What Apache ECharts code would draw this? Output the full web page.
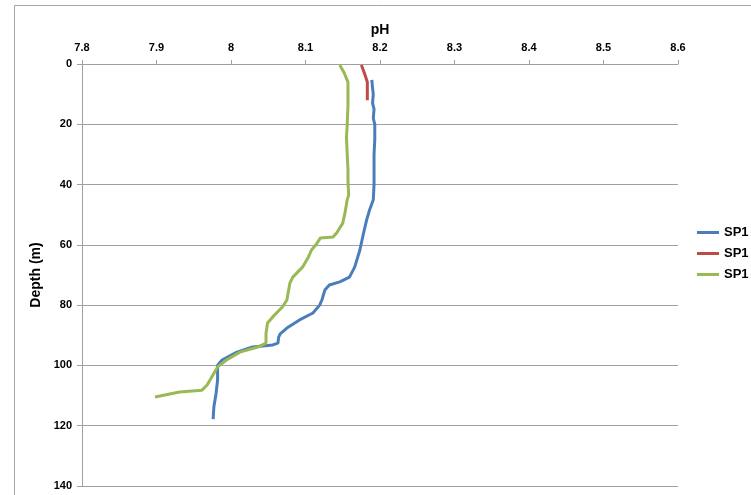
<!DOCTYPE html>
<html>
<head>
    <meta charset="utf-8">
    <title>index</title>
    <style>
        html, body { margin: 0; padding: 0; background: #fff; }
        #container { width: 751px; height: 495px; }
    </style>
</head>
<body>
    <div id="container"></div>
<script src="https://cdn.jsdelivr.net/npm/echarts@6/dist/echarts.min.js"></script>
<script type="text/javascript">
    // depth (m) / pH pairs
    var blueDepth = [5.3, 8, 10, 13, 15, 18, 20, 25, 30, 35, 40, 45, 48.4, 51.8, 56, 61.7, 67.4, 70.7, 72.3, 73.3, 75, 78.3, 80, 82.6, 84.9, 87.6, 89.5, 90.6, 92.6, 93.2, 93.9, 95.6, 98.2, 99.9, 104.8, 109.2, 113.8, 117.8];
    var bluePH = [8.189, 8.190, 8.191, 8.190, 8.192, 8.191, 8.193, 8.193, 8.192, 8.192, 8.192, 8.191, 8.186, 8.182, 8.178, 8.173, 8.166, 8.159, 8.146, 8.132, 8.126, 8.122, 8.119, 8.110, 8.092, 8.075, 8.066, 8.064, 8.063, 8.056, 8.029, 8.008, 7.988, 7.982, 7.982, 7.980, 7.977, 7.976];

    var redDepth = [0.3, 3, 6, 9, 12];
    var redPH = [8.175, 8.179, 8.183, 8.183, 8.183];

    var greenDepth = [0.3, 3, 6, 10, 13.6, 20, 24.5, 30, 35, 39, 43.5, 45, 49.4, 52.8, 56, 57.4, 57.7, 60, 61.7, 64, 67.4, 70.7, 72.7, 78.3, 80.6, 83.9, 85.9, 89.3, 92.6, 93.9, 95.6, 98.2, 100.5, 103.9, 106.5, 108.2, 108.8, 110.5];
    var greenPH = [8.146, 8.152, 8.157, 8.157, 8.157, 8.156, 8.155, 8.156, 8.157, 8.157, 8.158, 8.156, 8.153, 8.150, 8.142, 8.137, 8.120, 8.114, 8.108, 8.104, 8.096, 8.083, 8.079, 8.075, 8.069, 8.056, 8.049, 8.047, 8.047, 8.036, 8.012, 7.994, 7.982, 7.974, 7.968, 7.961, 7.931, 7.898];

    var seriesNames = ['SP1', 'SP1 ', 'SP1  '];
    var seriesColors = ['#4a7ebb', '#be4b48', '#98b954'];

    function pairs(ph, depth) {
        var out = [];
        for (var i = 0; i < ph.length; i++) {
            out.push([ph[i], depth[i]]);
        }
        return out;
    }

    var lineData = [pairs(bluePH, blueDepth), pairs(redPH, redDepth), pairs(greenPH, greenDepth)];

    var labelStyle = {
        color: '#000',
        fontFamily: 'Liberation Sans',
        fontWeight: 'bold',
        fontSize: 11
    };

    var myChart = echarts.init(document.getElementById('container'));
    var option = {
        animation: false,
        graphic: [{
            type: 'rect',
            shape: { x: 14.5, y: 5.5, width: 760, height: 520 },
            style: { fill: 'none', stroke: '#a6a6a6', lineWidth: 1 },
            silent: true
        }],
        grid: { left: 82, right: 73, top: 64, bottom: 9 },
        legend: {
            orient: 'vertical',
            left: 692,
            top: 221,
            itemGap: 8,
            itemWidth: 22,
            itemHeight: 3,
            icon: 'rect',
            textStyle: {
                color: '#000',
                fontFamily: 'Liberation Sans',
                fontWeight: 'bold',
                fontSize: 13
            },
            data: seriesNames
        },
        xAxis: {
            type: 'value',
            position: 'top',
            min: 7.8,
            max: 8.6,
            interval: 0.1,
            name: 'pH',
            nameLocation: 'middle',
            nameGap: 27,
            nameTextStyle: {
                color: '#000',
                fontFamily: 'Liberation Sans',
                fontWeight: 'bold',
                fontSize: 14
            },
            axisLine: { show: true, lineStyle: { color: '#a0a0a0' } },
            axisTick: { show: true, length: 4, lineStyle: { color: '#a0a0a0' } },
            splitLine: { show: false },
            axisLabel: Object.assign({
                margin: 11,
                formatter: function (v) { return String(+v.toFixed(1)); }
            }, labelStyle)
        },
        yAxis: {
            type: 'value',
            inverse: true,
            min: 0,
            max: 140,
            interval: 20,
            name: 'Depth (m)',
            nameLocation: 'middle',
            nameGap: 36,
            nameRotate: 90,
            nameTextStyle: {
                color: '#000',
                fontFamily: 'Liberation Sans',
                fontWeight: 'bold',
                fontSize: 14
            },
            axisLine: { show: true, lineStyle: { color: '#a0a0a0' } },
            axisTick: { show: true, length: 5, lineStyle: { color: '#a0a0a0' } },
            splitLine: { show: true, lineStyle: { color: '#a0a0a0' } },
            axisLabel: Object.assign({ margin: 10 }, labelStyle)
        },
        series: seriesNames.map(function (name, i) {
            return {
                name: name,
                type: 'line',
                data: lineData[i],
                showSymbol: false,
                symbol: 'none',
                smooth: false,
                lineStyle: { color: seriesColors[i], width: 3 },
                itemStyle: { color: seriesColors[i] }
            };
        })
    };
    myChart.setOption(option, true);
</script>
</body>
</html>
